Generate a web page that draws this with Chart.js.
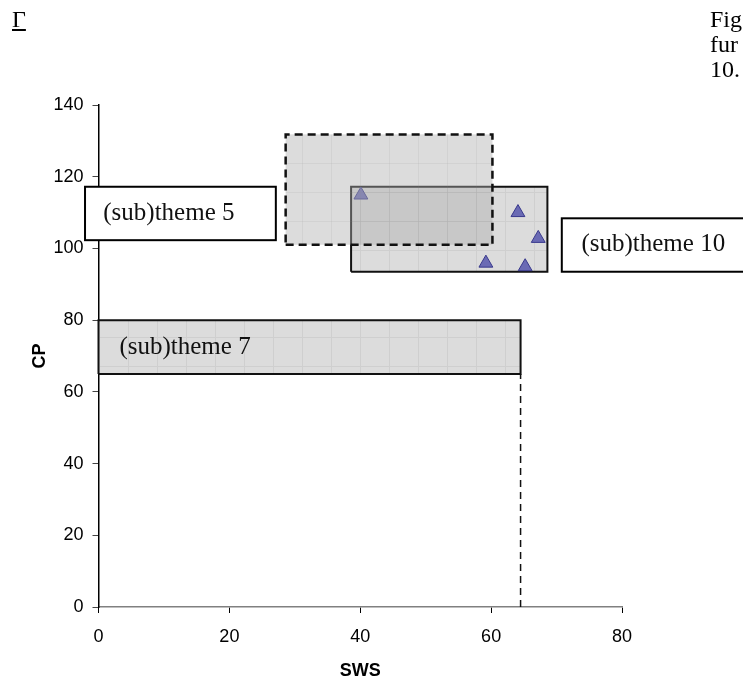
<!DOCTYPE html>
<html>
<head>
<meta charset="utf-8">
<script src="https://cdn.jsdelivr.net/npm/chart.js@4/dist/chart.umd.min.js"></script>
<style>
  html, body { margin: 0; padding: 0; background: #fff; }
  #wrap { position: relative; width: 743px; height: 684px; overflow: hidden; }
  .page-text { position: absolute; font: 24px "Liberation Serif", "Times New Roman", serif; line-height: 25px; color: #000; white-space: nowrap; }
</style>
</head>
<body>
<div id="wrap">
  <canvas id="chart"></canvas>
  <div class="page-text" style="left:12px; top:7px; text-decoration:underline;">Γ</div>
  <div class="page-text" style="left:710px; top:7px;">Fig<br>fur<br>10.</div>
</div>
<script>
/* ---------- data ---------- */
const xTicks = [0, 20, 40, 60, 80];
const yTicks = [0, 20, 40, 60, 80, 100, 120, 140];

// shaded ranges (SWS from x0 to x1, CP from y0 to y1)
const rectNames = ['theme 7', 'theme 10', 'theme 5'];
const rectX0 = [0, 38.6, 28.6];
const rectX1 = [64.5, 68.6, 60.2];
const rectY0 = [65, 93.5, 101];
const rectY1 = [80, 117.2, 131.8];

// observations (triangles)
const pointX = [40.1, 64.1, 67.2, 59.2, 65.2];
const pointY = [114.9, 110, 102.8, 95.9, 94.9];

// dashed drop line from theme 7 down to the axis
const guideX = [64.5, 64.5];
const guideY = [0, 65];

// label boxes, in axis units
const labelTexts = ['(sub)theme 5', '(sub)theme 10', '(sub)theme 7'];
const labelBoxX0 = [-2.06, 70.8, null];
const labelBoxX1 = [27.1, 100, null];
const labelBoxY0 = [102.3, 93.5, null];
const labelBoxY1 = [117.2, 108.4, null];
const labelTextX = [0.73, 73.8, 3.2];
const labelTextY = [109.8, 101, 72.3];

/* ---------- helpers ---------- */
// grey fill with a faint grid texture, like the spreadsheet pattern fill
function greyGrid(base, line) {
  const c = document.createElement('canvas');
  c.width = 29; c.height = 29;
  const g = c.getContext('2d');
  g.fillStyle = base;
  g.fillRect(0, 0, 29, 29);
  g.fillStyle = line;
  g.fillRect(0, 18, 29, 1);
  g.fillRect(12, 0, 1, 29);
  return g.createPattern(c, 'repeat');
}

function rectPoints(i) {
  return [
    { x: rectX0[i], y: rectY0[i] },
    { x: rectX1[i], y: rectY0[i] },
    { x: rectX1[i], y: rectY1[i] },
    { x: rectX0[i], y: rectY1[i] },
    { x: rectX0[i], y: rectY0[i] }
  ];
}

const solidFill = greyGrid('#dcdcdc', '#cfcfcf');
const glassFill = greyGrid('rgba(174,174,174,0.43)', 'rgba(140,140,140,0.12)');

function rectDataset(i, order, dashed) {
  return {
    label: rectNames[i],
    data: rectPoints(i),
    showLine: true,
    fill: 'shape',
    backgroundColor: dashed ? glassFill : solidFill,
    borderColor: '#111',
    borderWidth: dashed ? 2.5 : 2,
    borderDash: dashed ? [8, 5] : [],
    pointRadius: 0,
    tension: 0,
    clip: false,
    order
  };
}

/* ---------- label boxes plugin ---------- */
const labelBoxes = {
  id: 'labelBoxes',
  afterDatasetsDraw(chart) {
    const { ctx, scales: { x, y } } = chart;
    ctx.save();
    labelTexts.forEach((txt, i) => {
      if (labelBoxX0[i] !== null) {
        const l = x.getPixelForValue(labelBoxX0[i]);
        const r = x.getPixelForValue(labelBoxX1[i]);
        const t = y.getPixelForValue(labelBoxY1[i]);
        const b = y.getPixelForValue(labelBoxY0[i]);
        ctx.fillStyle = '#fff';
        ctx.fillRect(l, t, r - l, b - t);
        ctx.strokeStyle = '#000';
        ctx.lineWidth = 2;
        ctx.strokeRect(l, t, r - l, b - t);
      }
      ctx.fillStyle = '#111';
      ctx.font = '25px "Liberation Serif", "Times New Roman", serif';
      ctx.textBaseline = 'middle';
      ctx.textAlign = 'left';
      ctx.fillText(txt, x.getPixelForValue(labelTextX[i]), y.getPixelForValue(labelTextY[i]));
    });
    ctx.restore();
  }
};

/* ---------- chart ---------- */
const tickFont = { family: '"Liberation Sans", Arial, sans-serif', size: 18 };
const titleFont = { family: '"Liberation Sans", Arial, sans-serif', size: 18, weight: 'bold' };

const canvas = document.getElementById('chart');

new Chart(canvas, {
  type: 'scatter',
  data: {
    datasets: [
      rectDataset(2, 0, true),
      {
        label: 'observations',
        data: pointX.map((v, i) => ({ x: v, y: pointY[i] })),
        pointStyle: 'triangle',
        pointRadius: 8,
        backgroundColor: '#6a6ab4',
        borderColor: '#38388c',
        borderWidth: 1,
        clip: false,
        order: 1
      },
      rectDataset(1, 2, false),
      rectDataset(0, 3, false),
      {
        label: 'drop line',
        data: guideX.map((v, i) => ({ x: v, y: guideY[i] })),
        showLine: true,
        borderColor: '#111',
        borderWidth: 1.5,
        borderDash: [7, 5],
        pointRadius: 0,
        clip: false,
        order: 4
      }
    ]
  },
  options: {
    responsive: true,
    maintainAspectRatio: false,
    animation: false,
    events: [],
    layout: { padding: { left: 0, top: 105, right: 121, bottom: 0 } },
    plugins: { legend: { display: false }, tooltip: { enabled: false } },
    scales: {
      x: {
        type: 'linear',
        min: 0, max: 80,
        afterBuildTicks: s => { s.ticks = xTicks.map(v => ({ value: v })); },
        afterFit: s => { s.height = 77; },
        ticks: { font: tickFont, color: '#000', padding: 13 },
        grid: { drawOnChartArea: false, drawTicks: true, tickLength: 6, color: '#000' },
        border: { display: true, color: '#808080', width: 1.5 },
        title: { display: true, text: 'SWS', font: titleFont, color: '#000', padding: { top: 0, bottom: 2 } }
      },
      y: {
        type: 'linear',
        min: 0, max: 140,
        afterBuildTicks: s => { s.ticks = yTicks.map(v => ({ value: v })); },
        afterFit: s => { s.width = 98.5; },
        ticks: { font: tickFont, color: '#000', padding: 9 },
        grid: { drawOnChartArea: false, drawTicks: true, tickLength: 6, color: '#444' },
        border: { display: true, color: '#000', width: 1.5 },
        title: { display: true, text: 'CP', font: titleFont, color: '#000', padding: { top: 29, bottom: 0 } }
      }
    }
  },
  plugins: [labelBoxes]
});
</script>
</body>
</html>
